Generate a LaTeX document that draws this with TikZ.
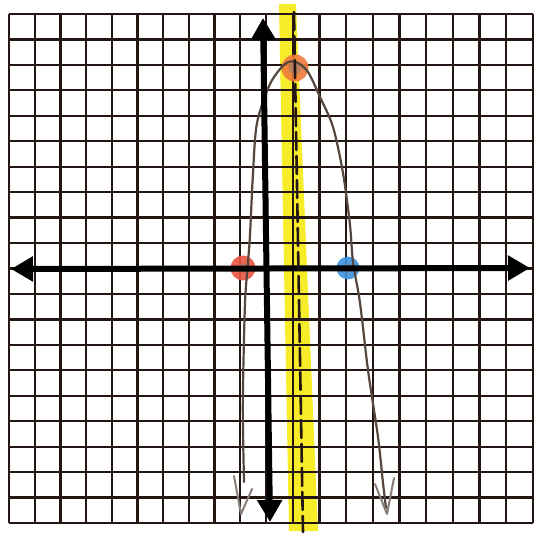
\documentclass[tikz,border=0pt]{standalone}
\usetikzlibrary{arrows.meta}
\definecolor{gridc}{HTML}{241713}
\definecolor{hl}{HTML}{F6EA12}
\definecolor{orangec}{HTML}{F07A3C}
\definecolor{redc}{HTML}{EA5540}
\definecolor{bluec}{HTML}{3C92DC}
\definecolor{pencil}{HTML}{55473F}
\tikzset{
  gridline/.style={gridc, line width=2.3pt},
  axisline/.style={black, line width=6pt, {Triangle[length=22pt,width=24pt]}-{Triangle[length=22pt,width=24pt]}},
  dot/.style={circle, inner sep=0pt, minimum size=25pt, fill opacity=0.9},
  dotcore/.style={fill=gray, fill opacity=0.45},
  curveline/.style={pencil, line width=2.2pt, line cap=round, line join=round},
  hookline/.style={pencil!70, line width=2pt, line cap=round, line join=round},
  symline/.style={gridc, line width=2.6pt, dash pattern=on 18pt off 6pt, line cap=round},
}
\begin{document}
\begin{tikzpicture}[x=1pt, y=-1pt]
\useasboundingbox (0,0) rectangle (541,540);
\fill[white] (0,0) rectangle (541,540);
% highlighter
\fill[hl, fill opacity=0.9] (279,4) -- (296,4) -- (318,531) -- (289,531) -- cycle;
% grid
\foreach \i in {0,...,10} {
  \draw[gridline] ({9+\i*25.7},14) -- ({9+\i*25.7},523);
}
\foreach \i in {11,...,20} {
  \draw[gridline] ({266+(\i-10)*26.7},14) -- ({266+(\i-10)*26.7},523);
}
\foreach \j in {0,...,20} {
  \draw[gridline] (9,{14+\j*25.45}) -- (533,{14+\j*25.45});
}
% points
\node[dot, fill=orangec, minimum size=27pt] (vertex) at (295,68) {};
\node[dot, fill=redc] (zeroL) at (243,268) {};
\node[dot, fill=bluec, minimum size=23pt] (zeroR) at (348,268) {};
\fill[dotcore] (vertex.center) circle (6.5pt);
\fill[dotcore] (zeroL.center) circle (5pt);
\fill[dotcore] (zeroR.center) circle (5pt);
% parabola
\draw[curveline] plot[smooth, tension=0.5] coordinates {
  (244,482) (243,430) (243,387) (245,303) (248,262) (250,235) (253,173)
  (257,123) (270,84) (285,64) (296,62) (308,72) (320,97) (333,127)
  (343,173) (350,225) (353,262) (360,303) (368,370) (378,437) (383,483) (386,508)};
\draw[hookline] (234,476) -- (241,514) -- (252,489);
\draw[hookline] (375,484) -- (387,514) -- (394,478);
% axes
\coordinate (ytop) at (263,18);
\coordinate (ybot) at (270,522);
\coordinate (xleft) at (11,269);
\coordinate (xright) at (530,268);
\draw[axisline] (xleft) -- (xright);
\draw[axisline] (ybot) -- (ytop);
% axis of symmetry
\coordinate (symtop) at (294,12);
\coordinate (symbot) at (303,532);
\draw[symline] (symtop) -- (symbot);
\end{tikzpicture}
\end{document}
